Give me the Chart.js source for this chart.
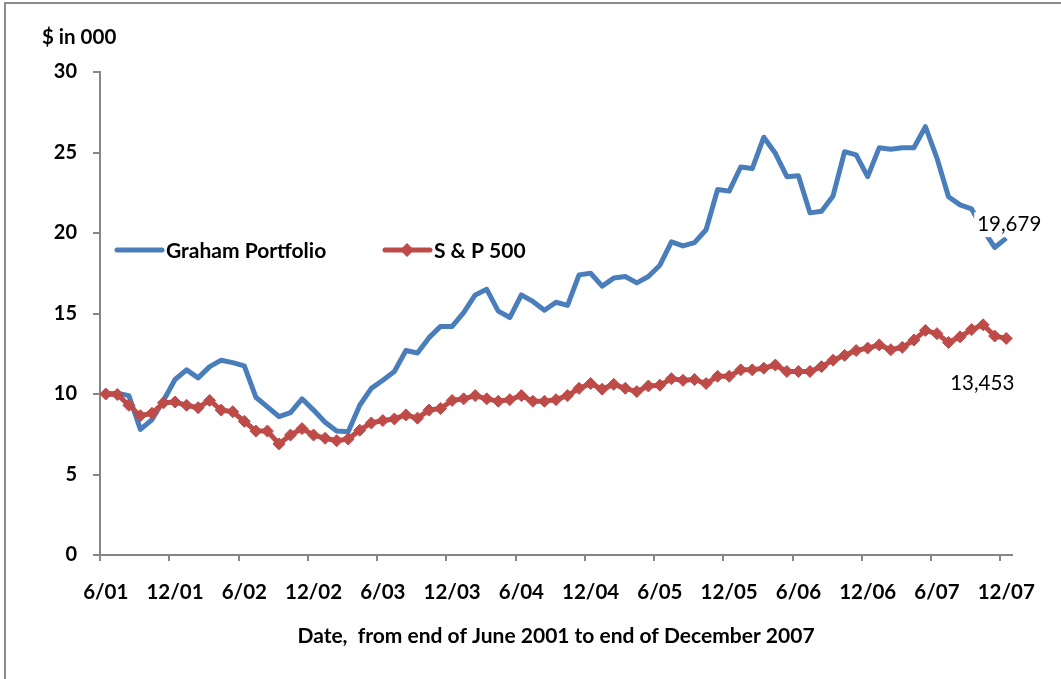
<!DOCTYPE html>
<html><head><meta charset="utf-8">
<script src="https://cdn.jsdelivr.net/npm/chart.js@4.4.1/dist/chart.umd.min.js"></script>
<style>html,body{margin:0;padding:0;background:#fff}canvas{display:block}</style>
</head><body>
<canvas id="c" width="1061" height="679"></canvas>
<script>
const categories = [
 '6/01','7/01','8/01','9/01','10/01','11/01','12/01',
 '1/02','2/02','3/02','4/02','5/02','6/02','7/02','8/02','9/02','10/02','11/02','12/02',
 '1/03','2/03','3/03','4/03','5/03','6/03','7/03','8/03','9/03','10/03','11/03','12/03',
 '1/04','2/04','3/04','4/04','5/04','6/04','7/04','8/04','9/04','10/04','11/04','12/04',
 '1/05','2/05','3/05','4/05','5/05','6/05','7/05','8/05','9/05','10/05','11/05','12/05',
 '1/06','2/06','3/06','4/06','5/06','6/06','7/06','8/06','9/06','10/06','11/06','12/06',
 '1/07','2/07','3/07','4/07','5/07','6/07','7/07','8/07','9/07','10/07','11/07','12/07'
];
const grahamPortfolio = [
 10.0,10.05,9.9,7.8,8.4,9.6,10.9,
 11.5,11.0,11.7,12.1,11.95,11.75,9.8,9.2,8.6,8.85,9.7,9.0,
 8.25,7.7,7.65,9.3,10.35,10.85,11.4,12.7,12.55,13.5,14.2,14.2,
 15.05,16.15,16.5,15.15,14.75,16.15,15.75,15.2,15.7,15.5,17.4,17.5,
 16.7,17.2,17.3,16.9,17.3,18.0,19.45,19.2,19.4,20.2,22.7,22.6,
 24.1,24.0,25.95,24.95,23.5,23.55,21.25,21.35,22.3,25.05,24.85,23.5,
 25.3,25.2,25.3,25.3,26.6,24.65,22.25,21.75,21.5,20.2,19.1,19.679
];
const sp500 = [
 10.0,9.97,9.3,8.65,8.8,9.45,9.5,
 9.3,9.15,9.6,9.0,8.9,8.3,7.7,7.7,6.9,7.45,7.85,7.45,
 7.25,7.1,7.2,7.75,8.2,8.35,8.45,8.7,8.5,9.0,9.1,9.6,
 9.7,9.9,9.7,9.55,9.65,9.9,9.55,9.55,9.65,9.9,10.35,10.65,
 10.3,10.6,10.35,10.15,10.5,10.55,10.95,10.85,10.9,10.65,11.1,11.1,
 11.5,11.5,11.6,11.8,11.4,11.4,11.4,11.7,12.1,12.4,12.7,12.85,
 13.05,12.75,12.9,13.35,13.95,13.75,13.2,13.55,14.0,14.3,13.6,13.453
];
const seriesNames = ['Graham Portfolio', 'S & P 500'];
const endLabels = ['19,679', '13,453'];
const yTickValues = [0, 5, 10, 15, 20, 25, 30];
const yAxisCaption = '$ in 000';
const xAxisCaption = 'Date,  from end of June 2001 to end of December 2007';

const BLUE = '#4a7ebb', RED = '#be4b48', AXIS = '#868686';
const FONT = 'Lato, "Liberation Sans", sans-serif';

const decorPlugin = {
  id: 'decor',
  beforeDraw(chart) {
    const ctx = chart.ctx;
    ctx.save();
    ctx.fillStyle = '#fff';
    ctx.fillRect(0, 0, chart.width, chart.height);
    ctx.strokeStyle = '#8c8c8c';
    ctx.lineWidth = 2;
    ctx.beginPath();
    ctx.moveTo(5, chart.height);
    ctx.lineTo(5, 3);
    ctx.lineTo(chart.width, 3);
    ctx.stroke();
    ctx.fillStyle = '#000';
    ctx.font = 'bold 20.5px ' + FONT;
    ctx.textAlign = 'left';
    ctx.textBaseline = 'middle';
    ctx.fillText(yAxisCaption, 42, 37);
    ctx.restore();
  },
  afterDatasetsDraw(chart) {
    const ctx = chart.ctx;
    const area = chart.chartArea;
    ctx.save();
    const ly = 250;
    const items = [{x: area.left + 17, idx: 0}, {x: area.left + 285, idx: 1}];
    ctx.font = 'bold 21px ' + FONT;
    ctx.textBaseline = 'middle';
    ctx.textAlign = 'left';
    items.forEach(it => {
      const ds = chart.data.datasets[it.idx];
      ctx.strokeStyle = ds.borderColor;
      ctx.lineWidth = 5;
      ctx.lineCap = 'round';
      ctx.beginPath();
      ctx.moveTo(it.x, ly);
      ctx.lineTo(it.x + 45, ly);
      ctx.stroke();
      if (ds.pointRadius > 0) {
        const cx = it.x + 22, r = 7;
        ctx.fillStyle = ds.pointBackgroundColor;
        ctx.beginPath();
        ctx.moveTo(cx, ly - r); ctx.lineTo(cx + r, ly); ctx.lineTo(cx, ly + r); ctx.lineTo(cx - r, ly);
        ctx.closePath();
        ctx.fill();
      }
      ctx.fillStyle = '#000';
      ctx.fillText(ds.label, it.x + 49, ly + 1);
    });
    ctx.font = '20.5px ' + FONT;
    ctx.textAlign = 'center';
    ctx.textBaseline = 'middle';
    const m0 = chart.getDatasetMeta(0), m1 = chart.getDatasetMeta(1);
    const p0 = m0.data[m0.data.length - 1], p1 = m1.data[m1.data.length - 1];
    const c0x = p0.x + 3, c0y = p0.y - 14;
    const w0 = ctx.measureText(endLabels[0]).width;
    ctx.fillStyle = '#fff';
    ctx.fillRect(c0x - w0 / 2 - 3, c0y - 12, w0 + 6, 25);
    ctx.fillStyle = '#000';
    ctx.fillText(endLabels[0], c0x, c0y);
    ctx.fillText(endLabels[1], p1.x - 24, p1.y + 45);
    ctx.restore();
  }
};

new Chart(document.getElementById('c'), {
  type: 'line',
  data: {
    labels: categories,
    datasets: [
      {label: seriesNames[0], data: grahamPortfolio, borderColor: BLUE, backgroundColor: BLUE,
       borderWidth: 5, pointRadius: 0, tension: 0, order: 1, borderJoinStyle: 'round'},
      {label: seriesNames[1], data: sp500, borderColor: RED, backgroundColor: RED,
       pointBackgroundColor: RED, pointBorderColor: RED, pointStyle: 'rectRot',
       pointRadius: 6, pointBorderWidth: 1, borderWidth: 5, tension: 0, order: 0, borderJoinStyle: 'round'}
    ]
  },
  options: {
    responsive: false,
    animation: false,
    devicePixelRatio: 1,
    layout: {padding: {left: 0, right: 49, top: 72, bottom: 0}},
    plugins: {legend: {display: false}, tooltip: {enabled: false}},
    scales: {
      x: {
        type: 'category',
        offset: true,
        afterFit: s => { s.height = 124; },
        grid: {
          offset: true, drawOnChartArea: false, drawTicks: true, tickLength: 6, lineWidth: 2,
          color: c => (c.index % 6 === 0 ? AXIS : 'rgba(0,0,0,0)')
        },
        border: {display: true, color: AXIS, width: 2},
        ticks: {
          autoSkip: false, maxRotation: 0, minRotation: 0, padding: 19, color: '#000',
          font: {family: FONT, size: 20.5, weight: 'bold'},
          callback: (v, i) => (i % 6 === 0 ? categories[i] : '')
        },
        title: {display: true, text: xAxisCaption, color: '#000',
          font: {family: FONT, size: 21, weight: 'bold'}, padding: {top: 0, bottom: 30}}
      },
      y: {
        min: 0, max: 30,
        afterFit: s => { s.width = 100; },
        afterBuildTicks: s => { s.ticks = yTickValues.map(v => ({value: v})); },
        grid: {drawOnChartArea: false, drawTicks: true, tickLength: 7, lineWidth: 2, color: AXIS},
        border: {display: true, color: AXIS, width: 2},
        ticks: {padding: 16, color: '#000', font: {family: FONT, size: 20, weight: 'bold'}}
      }
    }
  },
  plugins: [decorPlugin]
});
</script>
</body></html>
